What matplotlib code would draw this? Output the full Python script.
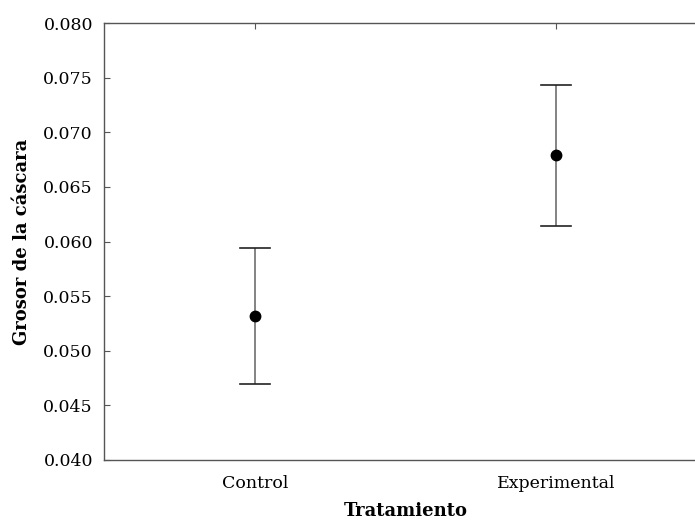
import matplotlib
matplotlib.use("Agg")
import matplotlib.pyplot as plt

categories = ["Control", "Experimental"]
means = [0.0532, 0.0679]
upper = [0.0594, 0.0743]
lower = [0.0470, 0.0614]
yticks = [0.040, 0.045, 0.050, 0.055, 0.060, 0.065, 0.070, 0.075, 0.080]

plt.rcParams['font.family'] = ['DejaVu Serif']

fig = plt.figure(figsize=(6.95, 5.24), dpi=100)
# axes run past the right edge, as in the reference (cropped)
ax = fig.add_axes([104/695, 1 - 460/524, 603/695, 437/524])

x = list(range(len(categories)))
err = [[m - l for m, l in zip(means, lower)], [u - m for m, u in zip(means, upper)]]
ax.errorbar(x, means, yerr=err, fmt='none', ecolor='#7a7a7a', elinewidth=1.3,
            capsize=0, zorder=2)
for xi, lo, hi in zip(x, lower, upper):
    ax.plot([xi - 0.05, xi + 0.05], [hi, hi], color='#222222', lw=1.2, zorder=3)
    ax.plot([xi - 0.05, xi + 0.05], [lo, lo], color='#222222', lw=1.2, zorder=3)
ax.plot(x, means, 'o', color='black', markersize=7.5, zorder=4)

ax.set_xlim(-0.5, 1.5)
ax.set_ylim(0.040, 0.080)
ax.set_yticks(yticks)
ax.set_yticklabels(["%.3f" % v for v in yticks])
ax.set_xticks(x)
ax.set_xticklabels(categories)

for s in ax.spines.values():
    s.set_color('#555555')
    s.set_linewidth(1.0)

ax.tick_params(axis='y', direction='in', length=4, color='#555555', labelsize=12.5, pad=8)
ax.tick_params(axis='x', direction='in', length=4, color='#555555', labelsize=12.5, pad=11,
               bottom=False, top=True)

ax.set_xlabel("Tratamiento", fontsize=13, fontweight='bold', labelpad=7)
ax.set_ylabel("Grosor de la cáscara", fontsize=13, fontweight='bold', labelpad=9)

fig.savefig("out.png", dpi=100)
